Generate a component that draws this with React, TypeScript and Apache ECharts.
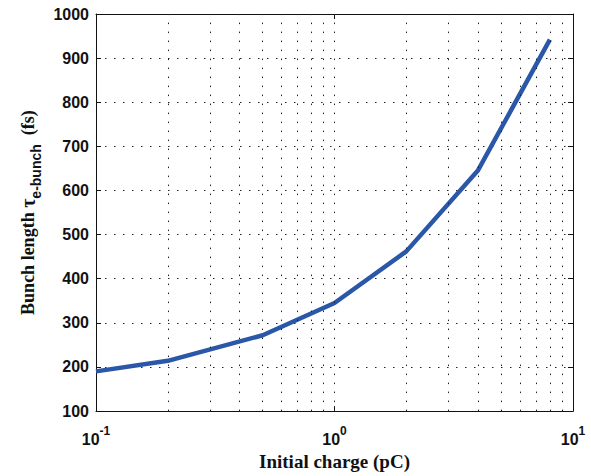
import React, { useEffect, useRef } from 'react';
import * as echarts from 'echarts';

// Data
const charges = [0.1, 0.2, 0.5, 1, 2, 4, 8];
const bunchLength = [190, 214, 272, 345, 462, 646, 942];
// vertical dotted grid positions (log minor/major lines)
const xGridValues = [0.2, 0.3, 0.4, 0.5, 0.6, 0.7, 0.8, 0.9, 1, 2, 3, 4, 5, 6, 7, 8, 9];
const yMin = 100;
const yMax = 1000;
const yInterval = 100;
const xMin = 0.1;
const xMax = 10;

const SERIF = '"Liberation Serif", "Times New Roman", serif';
const SANS = '"Liberation Sans", Arial, sans-serif';
const dotStyle = { type: [1.5, 7.5] as number[], color: '#222', width: 1 };

export default function App() {
  const ref = useRef<HTMLDivElement>(null);
  useEffect(() => {
    const chart = echarts.init(ref.current!, null, { renderer: 'svg' });
    const expLabel = (v: number) => `{b|10}{s|${Math.round(Math.log10(v))}}`;
    chart.setOption({
      animation: false,
      grid: { left: 96, right: 18, top: 14, bottom: 60, containLabel: false },
      xAxis: [
        {
          type: 'log',
          logBase: 10,
          min: xMin,
          max: xMax,
          position: 'bottom',
          name: 'Initial charge (pC)',
          nameLocation: 'middle',
          nameGap: 35,
          nameTextStyle: { fontFamily: SERIF, fontWeight: 'bold', fontSize: 19, color: '#111' },
          axisLine: { lineStyle: { color: '#111', width: 1 } },
          axisTick: { inside: true, length: 5, lineStyle: { color: '#111' } },
          splitLine: { show: false },
          axisLabel: {
            margin: 14,
            formatter: expLabel,
            rich: {
              b: { fontFamily: SANS, fontWeight: 'bold', fontSize: 16, color: '#111' },
              s: { fontFamily: SANS, fontWeight: 'bold', fontSize: 12, color: '#111', padding: [0, 0, 16, 0] },
            },
          },
        },
        {
          type: 'log',
          logBase: 10,
          min: xMin,
          max: xMax,
          position: 'top',
          axisLine: { lineStyle: { color: '#111', width: 1 } },
          axisTick: { inside: true, length: 5, lineStyle: { color: '#111' } },
          axisLabel: { show: false },
          splitLine: { show: false },
        },
      ],
      yAxis: [
        {
          type: 'value',
          min: yMin,
          max: yMax,
          interval: yInterval,
          position: 'left',
          name: '{m|Bunch length }{t|τ}{s|e-bunch}{m|  (fs)}',
          nameLocation: 'middle',
          nameGap: 52,
          nameRotate: 90,
          nameTextStyle: {
            color: '#111',
            rich: {
              m: { fontFamily: SERIF, fontWeight: 'bold', fontSize: 18, color: '#111' },
              t: { fontFamily: SERIF, fontWeight: 'bold', fontSize: 20, color: '#111' },
              s: { fontFamily: SANS, fontWeight: 'bold', fontSize: 14, color: '#111', padding: [16, 0, 0, 0] },
            },
          },
          axisLine: { show: true, lineStyle: { color: '#111', width: 1 } },
          axisTick: { show: true, inside: true, length: 5, lineStyle: { color: '#111' } },
          axisLabel: {
            margin: 7,
            fontFamily: SANS,
            fontWeight: 'bold',
            fontSize: 16,
            color: '#111',
            formatter: (v: number) => String(v),
          },
          splitLine: { show: true, lineStyle: dotStyle },
        },
        {
          type: 'value',
          min: yMin,
          max: yMax,
          interval: yInterval,
          position: 'right',
          axisLine: { show: true, lineStyle: { color: '#111', width: 1 } },
          axisTick: { show: true, inside: true, length: 5, lineStyle: { color: '#111' } },
          axisLabel: { show: false },
          splitLine: { show: false },
        },
      ],
      series: [
        {
          type: 'line',
          data: [],
          z: 1,
          silent: true,
          markLine: {
            silent: true,
            symbol: 'none',
            label: { show: false },
            lineStyle: dotStyle,
            data: xGridValues.map((v) => ({ xAxis: v })),
          },
        },
        {
          type: 'line',
          z: 3,
          data: charges.map((c, i) => [c, bunchLength[i]]),
          showSymbol: false,
          symbol: 'none',
          lineStyle: { color: '#2a57a8', width: 4.5 },
        },
      ],
    });
    return () => chart.dispose();
  }, []);
  return <div ref={ref} style={{ position: 'fixed', left: 0, top: 0, width: 591, height: 476, background: '#fff' }} />;
}
